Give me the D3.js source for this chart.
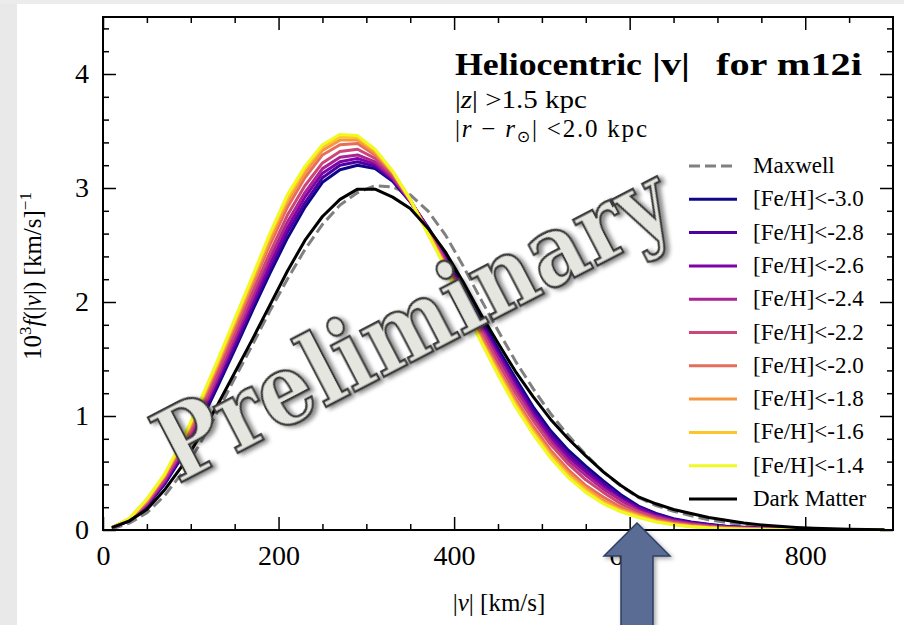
<!DOCTYPE html>
<html><head><meta charset="utf-8">
<script src="https://cdn.jsdelivr.net/npm/d3@7"></script>
<style>html,body{margin:0;padding:0;background:#fff;} svg{display:block}</style>
</head><body>
<svg id="chart" width="904" height="625"></svg>
<script>
const velocity = [10,30,50,70,90,110,130,150,170,190,210,230,250,270,290,310,330,350,370,390,410,430,450,470,490,510,530,550,570,590,610,630,650,670,690,710,730,750,770,790,810,830,850,870,890];

const maxwell = [0.01,0.06,0.15,0.30,0.50,0.75,1.03,1.33,1.62,1.92,2.20,2.46,2.68,2.85,2.96,3.02,3.01,2.94,2.80,2.59,2.32,2.03,1.75,1.48,1.24,1.02,0.83,0.66,0.51,0.385,0.285,0.215,0.165,0.125,0.09,0.065,0.045,0.03,0.02,0.013,0.008,0.005,0.003,0.002,0.001];

const darkMatter = [0.02,0.08,0.18,0.35,0.56,0.82,1.09,1.38,1.67,1.97,2.27,2.54,2.75,2.90,2.99,2.99,2.92,2.82,2.65,2.44,2.18,1.90,1.64,1.39,1.17,0.97,0.80,0.65,0.51,0.39,0.29,0.23,0.18,0.145,0.11,0.085,0.062,0.045,0.032,0.022,0.015,0.010,0.007,0.005,0.003];

const fehM30 = [0.02,0.08,0.21,0.40,0.64,0.93,1.25,1.58,1.92,2.25,2.56,2.83,3.05,3.16,3.20,3.17,3.06,2.88,2.66,2.41,2.14,1.86,1.59,1.33,1.08,0.87,0.70,0.56,0.43,0.31,0.21,0.145,0.10,0.07,0.05,0.034,0.024,0.017,0.011,0.007,0.004,0.003,0.002,0.001,0.001];
const fehM28 = [0.02,0.08,0.22,0.41,0.66,0.95,1.28,1.61,1.96,2.29,2.61,2.87,3.09,3.20,3.23,3.19,3.07,2.88,2.65,2.40,2.12,1.84,1.56,1.30,1.05,0.84,0.67,0.53,0.41,0.29,0.20,0.136,0.093,0.065,0.046,0.031,0.022,0.015,0.010,0.006,0.004,0.003,0.002,0.001,0.001];
const fehM26 = [0.02,0.085,0.22,0.42,0.67,0.98,1.31,1.65,1.99,2.33,2.65,2.92,3.13,3.23,3.26,3.21,3.08,2.89,2.65,2.38,2.10,1.81,1.54,1.27,1.02,0.81,0.64,0.51,0.38,0.27,0.19,0.127,0.087,0.060,0.042,0.028,0.020,0.014,0.009,0.006,0.003,0.002,0.002,0.001,0.001];
const fehM24 = [0.02,0.09,0.23,0.43,0.69,1.00,1.33,1.68,2.03,2.38,2.70,2.96,3.17,3.27,3.29,3.23,3.09,2.89,2.64,2.37,2.08,1.79,1.51,1.24,0.99,0.78,0.61,0.48,0.36,0.26,0.17,0.118,0.080,0.055,0.038,0.025,0.018,0.012,0.008,0.005,0.003,0.002,0.001,0.001,0.001];
const fehM22 = [0.02,0.09,0.24,0.45,0.71,1.03,1.37,1.72,2.08,2.43,2.76,3.02,3.22,3.32,3.34,3.26,3.11,2.89,2.63,2.35,2.06,1.76,1.47,1.20,0.96,0.75,0.58,0.44,0.33,0.23,0.16,0.106,0.071,0.048,0.033,0.022,0.015,0.010,0.006,0.004,0.002,0.002,0.001,0.001,0.000];
const fehM20 = [0.02,0.09,0.25,0.47,0.74,1.07,1.42,1.77,2.14,2.50,2.83,3.09,3.29,3.38,3.39,3.29,3.13,2.89,2.62,2.33,2.03,1.72,1.42,1.15,0.91,0.70,0.53,0.39,0.29,0.20,0.14,0.091,0.060,0.040,0.026,0.017,0.011,0.008,0.005,0.003,0.002,0.001,0.001,0.000,0.000];
const fehM18 = [0.02,0.10,0.26,0.48,0.76,1.09,1.44,1.81,2.17,2.54,2.88,3.13,3.33,3.42,3.42,3.31,3.14,2.90,2.61,2.32,2.01,1.69,1.40,1.12,0.88,0.67,0.50,0.37,0.26,0.18,0.13,0.082,0.054,0.035,0.022,0.014,0.009,0.006,0.003,0.002,0.001,0.001,0.000,0.000,0.000];
const fehM16 = [0.02,0.10,0.27,0.48,0.77,1.11,1.46,1.83,2.20,2.58,2.91,3.17,3.36,3.45,3.44,3.33,3.14,2.90,2.60,2.31,1.99,1.67,1.38,1.10,0.86,0.65,0.48,0.35,0.24,0.17,0.12,0.075,0.049,0.031,0.019,0.012,0.007,0.005,0.003,0.001,0.001,0.000,0.000,0.000,0.000];
const fehM14 = [0.02,0.10,0.27,0.49,0.78,1.12,1.48,1.85,2.22,2.60,2.94,3.19,3.38,3.47,3.46,3.34,3.15,2.90,2.60,2.30,1.98,1.66,1.36,1.08,0.84,0.63,0.46,0.33,0.23,0.16,0.11,0.07,0.045,0.028,0.017,0.010,0.006,0.004,0.002,0.001,0.001,0.000,0.000,0.000,0.000];

const fehSeries = [fehM30, fehM28, fehM26, fehM24, fehM22, fehM20, fehM18, fehM16, fehM14];
const fehLabels = ["[Fe/H]<-3.0","[Fe/H]<-2.8","[Fe/H]<-2.6","[Fe/H]<-2.4","[Fe/H]<-2.2","[Fe/H]<-2.0","[Fe/H]<-1.8","[Fe/H]<-1.6","[Fe/H]<-1.4"];

const xMajorTicks = [0,200,400,600,800];
const xMinorTicks = [50,100,150,250,300,350,450,500,550,650,700,750,850];
const yMajorTicks = [0,1,2,3,4];
const yMinorTicks = [0.2,0.4,0.6,0.8,1.2,1.4,1.6,1.8,2.2,2.4,2.6,2.8,3.2,3.4,3.6,3.8,4.2,4.4];

const svg = d3.select("#chart");
const W = 904, H = 625;
const L = 103, R = 893, T = 17, B = 530;
const x = d3.scaleLinear().domain([0, 900]).range([L, R]);
const y = d3.scaleLinear().domain([0, 4.5]).range([B, T]);
const serif = "'Liberation Serif', 'DejaVu Serif', serif";

const defs = svg.append("defs");
defs.append("clipPath").attr("id","clip").append("rect")
  .attr("x", L).attr("y", T).attr("width", R - L).attr("height", B - T);
const sh = defs.append("filter").attr("id","shadow").attr("x","-10%").attr("y","-10%").attr("width","130%").attr("height","140%");
sh.append("feDropShadow").attr("dx",3).attr("dy",3).attr("stdDeviation",2).attr("flood-color","#000").attr("flood-opacity",0.45);
const sh2 = defs.append("filter").attr("id","ashadow").attr("x","-30%").attr("y","-10%").attr("width","160%").attr("height","130%");
sh2.append("feDropShadow").attr("dx",2).attr("dy",2).attr("stdDeviation",2).attr("flood-color","#000").attr("flood-opacity",0.35);

// background
svg.append("rect").attr("width", W).attr("height", H).attr("fill", "#fff");
svg.append("rect").attr("x",0).attr("y",0).attr("width",17).attr("height",H).attr("fill","#e9e9e9");
svg.append("rect").attr("x",0).attr("y",0).attr("width",W).attr("height",4).attr("fill","#ececec");

// lines
const line = d3.line().x((d,i) => x(velocity[i])).y(d => y(d)).curve(d3.curveLinear);
const plot = svg.append("g").attr("clip-path","url(#clip)");
plot.append("path").datum(maxwell).attr("d", line).attr("fill","none")
  .attr("stroke","#808080").attr("stroke-width",3).attr("stroke-dasharray","11,5");
fehSeries.forEach((s, i) => {
  plot.append("path").datum(s).attr("d", line).attr("fill","none")
    .attr("stroke", d3.interpolatePlasma(i/8)).attr("stroke-width",3)
    .attr("stroke-linejoin","round");
});
plot.append("path").datum(darkMatter).attr("d", line).attr("fill","none")
  .attr("stroke","#000").attr("stroke-width",3).attr("stroke-linejoin","round");

// axes
function styleAxis(g){
  g.select(".domain").remove();
  g.selectAll(".tick line").attr("stroke","#000").attr("stroke-width",1.5);
  g.selectAll("text").attr("font-family", serif).attr("font-size", 28).attr("fill","#000");
}
svg.append("g").attr("transform",`translate(0,${B})`)
  .call(d3.axisBottom(x).tickValues(xMajorTicks).tickSize(-13).tickPadding(15).tickFormat(d3.format("d"))).call(styleAxis);
svg.append("g").attr("transform",`translate(0,${B})`)
  .call(d3.axisBottom(x).tickValues(xMinorTicks).tickSize(-6).tickFormat("")).call(styleAxis);
svg.append("g").attr("transform",`translate(0,${T})`)
  .call(d3.axisTop(x).tickValues(xMajorTicks).tickSize(-13).tickFormat("")).call(styleAxis);
svg.append("g").attr("transform",`translate(0,${T})`)
  .call(d3.axisTop(x).tickValues(xMinorTicks).tickSize(-6).tickFormat("")).call(styleAxis);
svg.append("g").attr("transform",`translate(${L},0)`)
  .call(d3.axisLeft(y).tickValues(yMajorTicks).tickSize(-13).tickPadding(14).tickFormat(d3.format("d"))).call(styleAxis);
svg.append("g").attr("transform",`translate(${L},0)`)
  .call(d3.axisLeft(y).tickValues(yMinorTicks).tickSize(-6).tickFormat("")).call(styleAxis);
svg.append("g").attr("transform",`translate(${R},0)`)
  .call(d3.axisRight(y).tickValues(yMajorTicks).tickSize(-13).tickFormat("")).call(styleAxis);
svg.append("g").attr("transform",`translate(${R},0)`)
  .call(d3.axisRight(y).tickValues(yMinorTicks).tickSize(-6).tickFormat("")).call(styleAxis);

svg.append("rect").attr("x",L).attr("y",T).attr("width",R-L).attr("height",B-T)
  .attr("fill","none").attr("stroke","#000").attr("stroke-width",2);

// axis labels
const xl = svg.append("text").attr("x", 499).attr("y", 611).attr("text-anchor","middle")
  .attr("font-family", serif).attr("font-size", 25);
xl.append("tspan").text("|");
xl.append("tspan").attr("font-style","italic").text("v");
xl.append("tspan").text("| [km/s]");

const yl = svg.append("text").attr("transform","translate(41,276) rotate(-90)").attr("text-anchor","middle")
  .attr("font-family", serif).attr("font-size", 25);
yl.append("tspan").text("10");
yl.append("tspan").attr("font-size",17).attr("dy",-10).text("3");
yl.append("tspan").attr("font-style","italic").attr("dy",10).text("f");
yl.append("tspan").text("(|");
yl.append("tspan").attr("font-style","italic").text("v");
yl.append("tspan").text("|) [km/s]");
yl.append("tspan").attr("font-size",17).attr("dy",-10).text("\u22121");

// title block
const titleG = svg.append("g").attr("font-family", serif).attr("font-size",31).attr("font-weight","bold");
titleG.append("text").attr("x",455).attr("y",75).attr("textLength",187).attr("lengthAdjust","spacingAndGlyphs").text("Heliocentric");
titleG.append("text").attr("x",652).attr("y",75).attr("textLength",38).attr("lengthAdjust","spacingAndGlyphs").text("|v|");
titleG.append("text").attr("x",716).attr("y",75).attr("textLength",146).attr("lengthAdjust","spacingAndGlyphs").text("for m12i");
const s1 = svg.append("text").attr("x",455).attr("y",108).attr("font-family", serif).attr("font-size",25)
  .attr("textLength",132).attr("lengthAdjust","spacingAndGlyphs");
s1.append("tspan").text("|");
s1.append("tspan").attr("font-style","italic").text("z");
s1.append("tspan").text("| >1.5 kpc");
const s2 = svg.append("text").attr("x",455).attr("y",137).attr("font-family", serif).attr("font-size",25)
  .attr("textLength",192).attr("lengthAdjust","spacing");
s2.append("tspan").text("|");
s2.append("tspan").attr("font-style","italic").text("r");
s2.append("tspan").text(" \u2212 ");
s2.append("tspan").attr("font-style","italic").text("r");
s2.append("tspan").attr("font-size",16).attr("dy",5).attr("font-family","'DejaVu Sans', sans-serif").text("\u2299");
s2.append("tspan").attr("dy",-5).text("| <2.0 kpc");

// legend
const legendItems = [{label:"Maxwell", color:"#808080", dash:"11,5"}]
  .concat(fehLabels.map((l,i) => ({label:l, color:d3.interpolatePlasma(i/8), dash:null})))
  .concat([{label:"Dark Matter", color:"#000", dash:null}]);
const lg = svg.append("g");
legendItems.forEach((it, i) => {
  const cy = 166 + i * 33.3;
  lg.append("line").attr("x1",689).attr("x2",737).attr("y1",cy).attr("y2",cy)
    .attr("stroke", it.color).attr("stroke-width",3)
    .attr("stroke-dasharray", it.dash);
  lg.append("text").attr("x",753).attr("y",cy+7).attr("font-family", serif)
    .attr("font-size",23).text(it.label);
});

// watermark
svg.append("text").attr("transform","translate(178,484) rotate(-27.5)")
  .attr("font-family","'DejaVu Serif', serif").attr("font-size",100).attr("font-weight","bold")
  .attr("textLength",565).attr("lengthAdjust","spacingAndGlyphs")
  .attr("fill","#e6e6e0").attr("stroke","#3a3a3a").attr("stroke-width",2.5)
  .attr("filter","url(#shadow)").text("Preliminary");

// arrow
svg.append("path")
  .attr("d","M637,523 L670,556 L653,556 L653,626 L621,626 L621,556 L604,556 Z")
  .attr("fill","#5a6c93").attr("stroke","#2c3f66").attr("stroke-width",1.5)
  .attr("filter","url(#ashadow)");
</script>
</body></html>
